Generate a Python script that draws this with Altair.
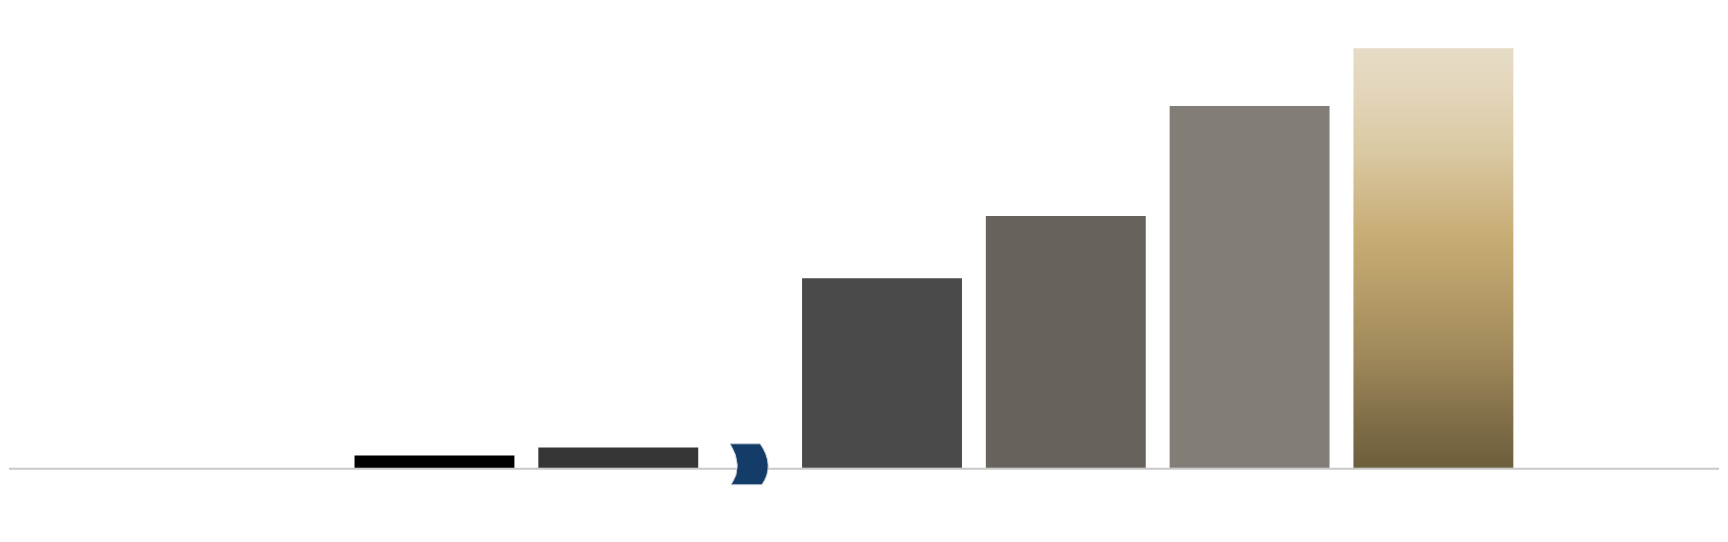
import altair as alt
import pandas as pd

# ---- data -------------------------------------------------------------
slots = ["s1", "s2", "s3", "s4", "s5", "s6"]          # internal ids, no labels shown
values = [2.9, 4.8, 45.2, 60.0, 86.2, 100.0]

# ---- styles -------------------------------------------------------------
solid_colors = ["#000000", "#363636", "#4A4A4A", "#67635C", "#827D76"]
gold_stops = [
    (0.00, "#E6DBC5"),
    (0.10, "#E3D6BB"),
    (0.25, "#D9C8A1"),
    (0.45, "#C8AC75"),
    (0.60, "#B39A66"),
    (0.75, "#9C8658"),
    (0.90, "#7E6C47"),
    (1.00, "#6D5E3C"),
]
GAP = 0.435      # extra spacing introduced by the axis break (in slot units)
HALF = 0.435     # half bar width (in slot units)

df = pd.DataFrame({"slot": slots, "value": values, "idx": list(range(len(slots)))})

xscale = alt.Scale(domain=[-2.315, 6.989], nice=False, zero=False)
yscale = alt.Scale(domain=[0, 109.52], nice=False)

base = alt.Chart(df).transform_calculate(
    pos=f"datum.idx + (datum.idx >= 2 ? {GAP} : 0)"
).transform_calculate(
    x0=f"datum.pos - {HALF}", x1=f"datum.pos + {HALF}"
)

enc = dict(
    x=alt.X("x0:Q", scale=xscale, axis=None),
    x2="x1:Q",
    y=alt.Y("value:Q", scale=yscale, axis=None),
    y2=alt.datum(0),
)

solid = base.transform_filter("datum.idx < 5").mark_bar(strokeWidth=0).encode(
    color=alt.Color("slot:N", scale=alt.Scale(domain=slots[:5], range=solid_colors), legend=None),
    **enc,
)

gold = base.transform_filter("datum.idx == 5").mark_bar(
    strokeWidth=0,
    color=alt.Gradient(
        gradient="linear",
        stops=[alt.GradientStop(offset=o, color=c) for o, c in gold_stops],
        x1=0, x2=0, y1=0, y2=1,
    ),
).encode(**enc)

baseline = alt.Chart(pd.DataFrame({"z": [0]})).mark_rule(
    color="#C8C8C8", strokeWidth=2, yOffset=1
).encode(y=alt.Y("z:Q", scale=yscale, axis=None))

# axis-break symbol: band with smoothly bowed sides
break_path = (
    "M -0.76 -1 L 0.71 -1 Q 1.45 0.07 0.79 1 "
    "L -0.71 1 Q -0.08 0.1 -0.76 -1 Z"
)

marker = base.transform_filter("datum.idx == 1 || datum.idx == 2").transform_calculate(
    edge=f"datum.idx == 1 ? datum.pos + {HALF} : datum.pos - {HALF}"
).transform_aggregate(mid="mean(edge)").mark_point(
    shape=break_path, filled=True, fill="#143C69", stroke="#C5CCD6",
    strokeWidth=1, size=1681, opacity=1, fillOpacity=1, strokeOpacity=1,
    xOffset=-4.5, yOffset=-3.5,
).encode(
    x=alt.X("mid:Q", scale=xscale, axis=None),
    y=alt.datum(0),
)

chart = alt.layer(baseline, solid, gold, marker).properties(
    width=1712, height=460,
    padding={"left": 0, "top": 0, "right": 0, "bottom": 20},
    background="white",
).configure_view(stroke=None)

chart.save("out.html", embed_options={"renderer": "svg", "actions": False})
